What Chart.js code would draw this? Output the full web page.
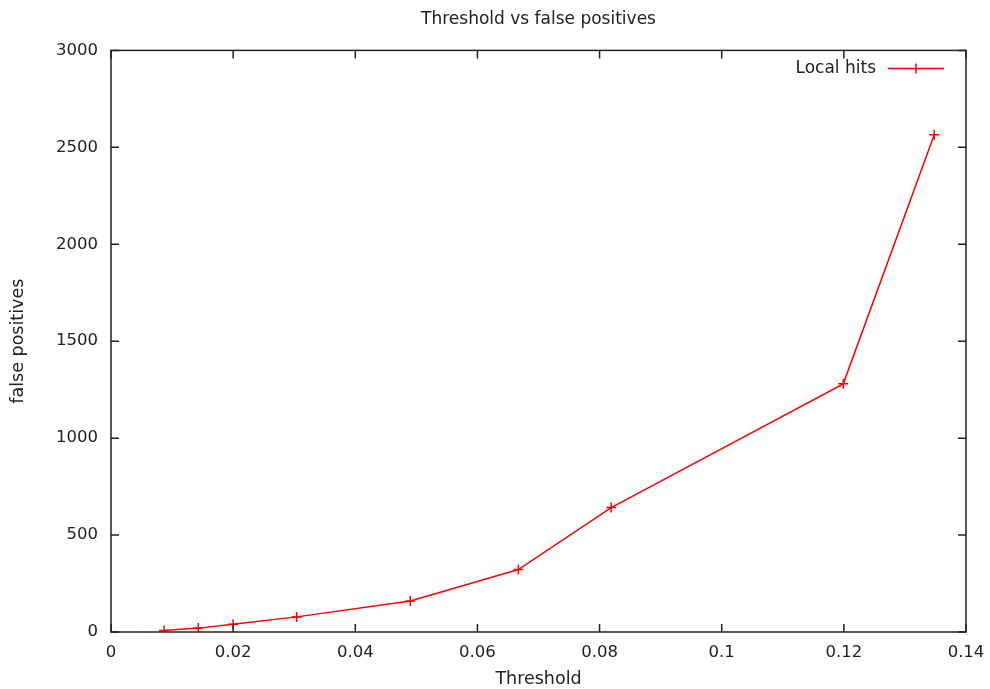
<!DOCTYPE html>
<html>
<head>
<meta charset="utf-8">
<script src="https://cdn.jsdelivr.net/npm/chart.js@4.4.0/dist/chart.umd.min.js"></script>
<style>
  html, body { margin: 0; padding: 0; background: #fff; }
  #wrap { width: 990px; height: 689px; }
</style>
</head>
<body>
<div id="wrap"><canvas id="myChart" width="990" height="689"></canvas></div>
<script>
// threshold values and matching false positive counts
const thresholds = [0.0087, 0.0143, 0.0200, 0.0304, 0.0490, 0.0667, 0.0819, 0.1199, 0.1348];
const falsePositives = [8, 20, 40, 78, 160, 322, 642, 1280, 2565];
const xTicks = [0, 0.02, 0.04, 0.06, 0.08, 0.1, 0.12, 0.14];
const yTicks = [0, 500, 1000, 1500, 2000, 2500, 3000];
const seriesName = 'Local hits';

const FONT = '"DejaVu Sans", Verdana, sans-serif';
const INK = '#222';

// gnuplot look: closed frame, ticks pointing in on all four sides, key inside
const framePlugin = {
  id: 'frame',
  afterDraw(chart) {
    const ctx = chart.ctx;
    const a = chart.chartArea;
    const xs = chart.scales.x, ys = chart.scales.y;
    const tl = 8;
    ctx.save();
    ctx.strokeStyle = INK;
    ctx.lineWidth = 1.5;
    ctx.strokeRect(a.left, a.top, a.right - a.left, a.bottom - a.top);
    ctx.beginPath();
    xTicks.forEach(v => {
      const px = xs.getPixelForValue(v);
      ctx.moveTo(px, a.bottom); ctx.lineTo(px, a.bottom - tl);
      ctx.moveTo(px, a.top); ctx.lineTo(px, a.top + tl);
    });
    yTicks.forEach(v => {
      const py = ys.getPixelForValue(v);
      ctx.moveTo(a.left, py); ctx.lineTo(a.left + tl, py);
      ctx.moveTo(a.right, py); ctx.lineTo(a.right - tl, py);
    });
    ctx.stroke();

    // key
    const ky = a.top + 18;
    const kx = a.right - 22;
    ctx.fillStyle = INK;
    ctx.font = '17px ' + FONT;
    ctx.textAlign = 'right';
    ctx.textBaseline = 'middle';
    ctx.fillText(seriesName, kx - 68, ky);
    ctx.strokeStyle = '#ff0000';
    ctx.lineWidth = 1.5;
    ctx.beginPath();
    ctx.moveTo(kx - 56, ky); ctx.lineTo(kx, ky);
    ctx.moveTo(kx - 28, ky - 5); ctx.lineTo(kx - 28, ky + 5);
    ctx.stroke();
    ctx.restore();
  }
};

new Chart('myChart', {
  type: 'scatter',
  data: {
    datasets: [{
      label: seriesName,
      data: thresholds.map((t, i) => ({ x: t, y: falsePositives[i] })),
      showLine: true,
      borderColor: '#ff0000',
      backgroundColor: '#ff0000',
      borderWidth: 1.5,
      pointStyle: 'cross',
      pointRadius: 5,
      pointBorderWidth: 1.5,
      tension: 0
    }]
  },
  options: {
    responsive: false,
    animation: false,
    layout: { padding: { right: 24, left: 0, top: 0, bottom: 0 } },
    plugins: {
      legend: { display: false },
      tooltip: { enabled: false },
      title: {
        display: true,
        fullSize: false,
        text: 'Threshold vs false positives',
        color: INK,
        font: { family: FONT, size: 17, weight: 'normal' },
        padding: { top: 9, bottom: 21 }
      }
    },
    scales: {
      x: {
        type: 'linear',
        min: 0,
        max: 0.14,
        afterBuildTicks: s => { s.ticks = xTicks.map(v => ({ value: v })); },
        afterFit: s => { s.height = 57; s.paddingLeft = 0; s.paddingRight = 0; },
        grid: { display: false, drawTicks: false },
        border: { display: false },
        ticks: {
          color: INK,
          padding: 11,
          font: { family: FONT, size: 16.5 },
          callback: v => String(+v.toFixed(4))
        },
        title: {
          display: true,
          text: 'Threshold',
          color: INK,
          font: { family: FONT, size: 17.5 },
          padding: { top: 0, bottom: -1 }
        }
      },
      y: {
        type: 'linear',
        min: 0,
        max: 3000,
        afterBuildTicks: s => { s.ticks = yTicks.map(v => ({ value: v })); },
        afterFit: s => { s.width = 111; s.paddingTop = 0; s.paddingBottom = 0; },
        grid: { display: false, drawTicks: false },
        border: { display: false },
        ticks: {
          color: INK,
          padding: 13,
          font: { family: FONT, size: 16.5 },
          callback: v => String(v)
        },
        title: {
          display: true,
          text: 'false positives',
          color: INK,
          font: { family: FONT, size: 17.5 },
          padding: { top: 8, bottom: 0 }
        }
      }
    }
  },
  plugins: [framePlugin]
});
</script>
</body>
</html>
